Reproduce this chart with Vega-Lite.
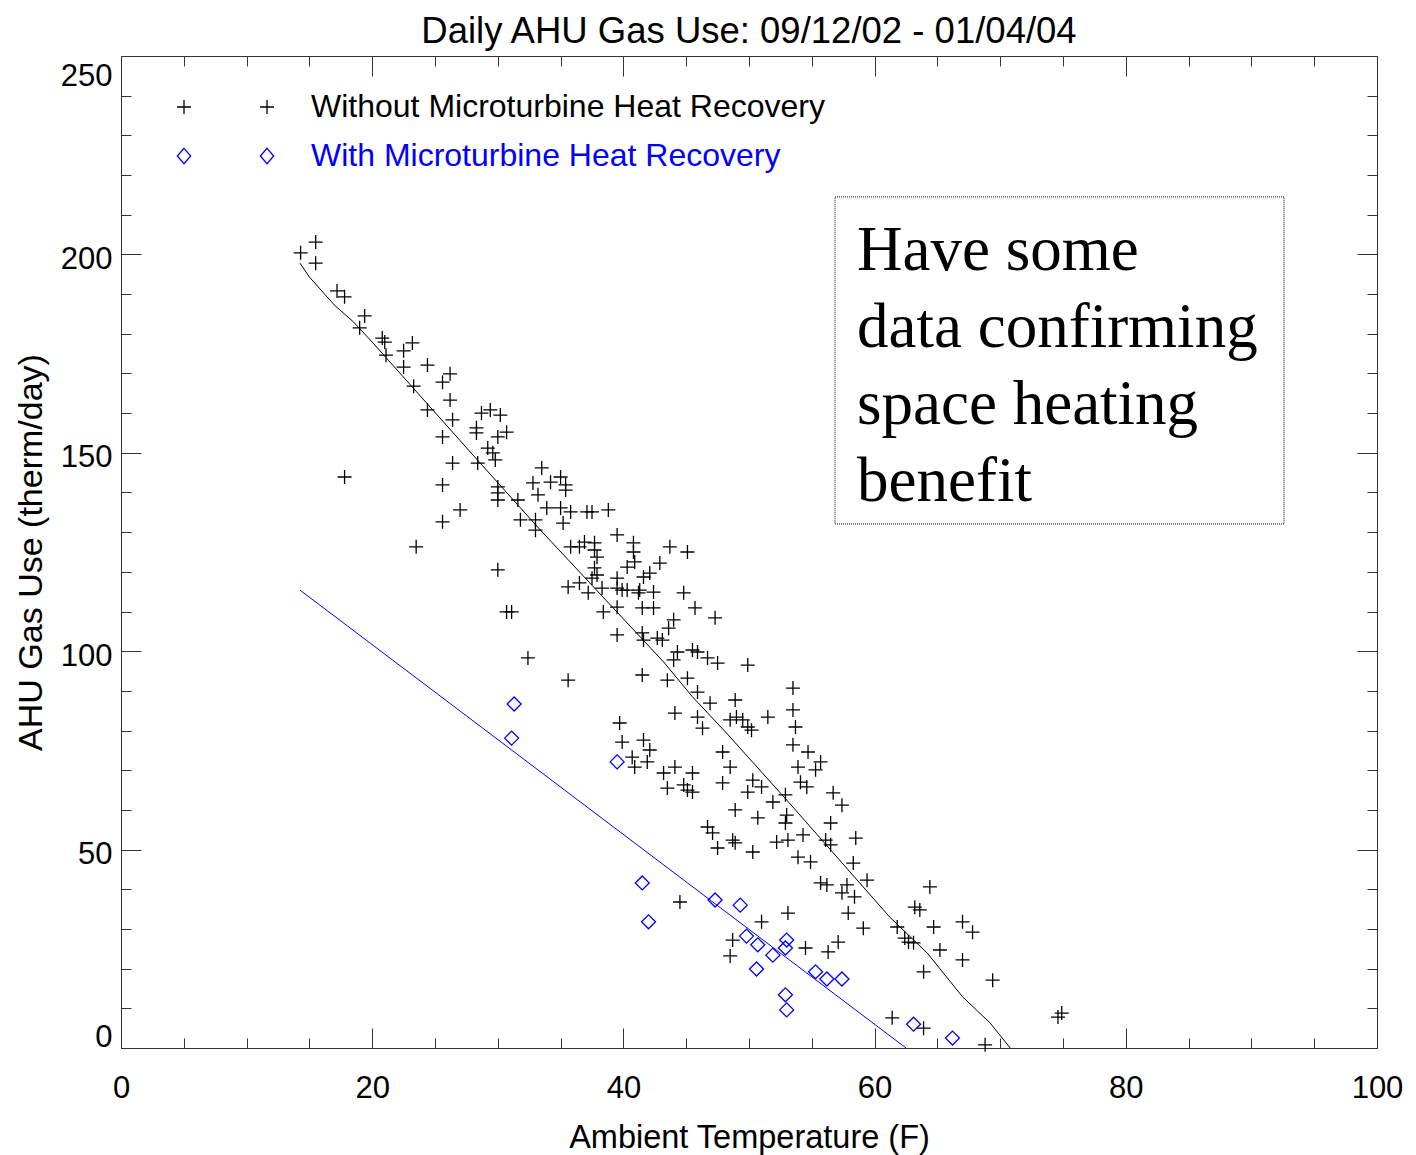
{
  "$schema": "https://vega.github.io/schema/vega-lite/v6.json",
  "width": 1256,
  "height": 992,
  "autosize": {"type": "none"},
  "padding": {"left": 121, "top": 56, "right": 39, "bottom": 107},
  "background": "white",
  "title": {"text": "Daily AHU Gas Use: 09/12/02 - 01/04/04", "font": "Liberation Sans", "fontSize": 36.5, "fontWeight": "normal", "anchor": "middle", "frame": "group", "offset": -24, "baseline": "alphabetic", "color": "black"},
  "config": {
    "view": {"stroke": null},
    "axis": {"domainColor": "#333333", "tickColor": "#333333", "tickWidth": 1, "domainWidth": 1, "labelFont": "Liberation Sans", "titleFont": "Liberation Sans", "labelColor": "black", "titleColor": "black", "grid": false, "titleFontWeight": "normal"}
  },
  "datasets": {
    "obs": [
      {"t":15.5,"g":203.1,"s":"Without Microturbine Heat Recovery"},
      {"t":14.3,"g":200.4,"s":"Without Microturbine Heat Recovery"},
      {"t":15.5,"g":197.8,"s":"Without Microturbine Heat Recovery"},
      {"t":17.2,"g":190.8,"s":"Without Microturbine Heat Recovery"},
      {"t":17.8,"g":189.3,"s":"Without Microturbine Heat Recovery"},
      {"t":19.4,"g":184.5,"s":"Without Microturbine Heat Recovery"},
      {"t":19.0,"g":181.5,"s":"Without Microturbine Heat Recovery"},
      {"t":20.8,"g":178.9,"s":"Without Microturbine Heat Recovery"},
      {"t":21.0,"g":177.9,"s":"Without Microturbine Heat Recovery"},
      {"t":23.2,"g":177.7,"s":"Without Microturbine Heat Recovery"},
      {"t":22.5,"g":175.7,"s":"Without Microturbine Heat Recovery"},
      {"t":21.1,"g":174.6,"s":"Without Microturbine Heat Recovery"},
      {"t":22.5,"g":171.6,"s":"Without Microturbine Heat Recovery"},
      {"t":24.4,"g":172.1,"s":"Without Microturbine Heat Recovery"},
      {"t":23.3,"g":166.8,"s":"Without Microturbine Heat Recovery"},
      {"t":25.6,"g":167.8,"s":"Without Microturbine Heat Recovery"},
      {"t":26.2,"g":169.9,"s":"Without Microturbine Heat Recovery"},
      {"t":26.2,"g":163.3,"s":"Without Microturbine Heat Recovery"},
      {"t":24.4,"g":160.8,"s":"Without Microturbine Heat Recovery"},
      {"t":26.4,"g":158.3,"s":"Without Microturbine Heat Recovery"},
      {"t":25.6,"g":154.0,"s":"Without Microturbine Heat Recovery"},
      {"t":26.4,"g":147.4,"s":"Without Microturbine Heat Recovery"},
      {"t":28.4,"g":147.4,"s":"Without Microturbine Heat Recovery"},
      {"t":28.7,"g":160.0,"s":"Without Microturbine Heat Recovery"},
      {"t":29.4,"g":160.8,"s":"Without Microturbine Heat Recovery"},
      {"t":30.2,"g":159.5,"s":"Without Microturbine Heat Recovery"},
      {"t":28.3,"g":156.3,"s":"Without Microturbine Heat Recovery"},
      {"t":28.3,"g":155.0,"s":"Without Microturbine Heat Recovery"},
      {"t":30.7,"g":155.2,"s":"Without Microturbine Heat Recovery"},
      {"t":30.0,"g":154.0,"s":"Without Microturbine Heat Recovery"},
      {"t":29.2,"g":151.2,"s":"Without Microturbine Heat Recovery"},
      {"t":29.6,"g":150.0,"s":"Without Microturbine Heat Recovery"},
      {"t":29.8,"g":148.2,"s":"Without Microturbine Heat Recovery"},
      {"t":17.8,"g":143.9,"s":"Without Microturbine Heat Recovery"},
      {"t":25.6,"g":141.9,"s":"Without Microturbine Heat Recovery"},
      {"t":30.0,"g":141.4,"s":"Without Microturbine Heat Recovery"},
      {"t":30.0,"g":139.9,"s":"Without Microturbine Heat Recovery"},
      {"t":30.0,"g":138.1,"s":"Without Microturbine Heat Recovery"},
      {"t":31.6,"g":138.1,"s":"Without Microturbine Heat Recovery"},
      {"t":27.0,"g":135.6,"s":"Without Microturbine Heat Recovery"},
      {"t":25.6,"g":132.6,"s":"Without Microturbine Heat Recovery"},
      {"t":31.8,"g":133.1,"s":"Without Microturbine Heat Recovery"},
      {"t":33.0,"g":133.1,"s":"Without Microturbine Heat Recovery"},
      {"t":33.0,"g":130.5,"s":"Without Microturbine Heat Recovery"},
      {"t":32.8,"g":142.4,"s":"Without Microturbine Heat Recovery"},
      {"t":23.5,"g":126.3,"s":"Without Microturbine Heat Recovery"},
      {"t":33.5,"g":146.2,"s":"Without Microturbine Heat Recovery"},
      {"t":34.2,"g":142.6,"s":"Without Microturbine Heat Recovery"},
      {"t":35.0,"g":143.9,"s":"Without Microturbine Heat Recovery"},
      {"t":35.4,"g":141.9,"s":"Without Microturbine Heat Recovery"},
      {"t":35.4,"g":140.6,"s":"Without Microturbine Heat Recovery"},
      {"t":33.2,"g":139.4,"s":"Without Microturbine Heat Recovery"},
      {"t":33.9,"g":136.1,"s":"Without Microturbine Heat Recovery"},
      {"t":35.0,"g":136.1,"s":"Without Microturbine Heat Recovery"},
      {"t":35.8,"g":135.1,"s":"Without Microturbine Heat Recovery"},
      {"t":37.1,"g":135.1,"s":"Without Microturbine Heat Recovery"},
      {"t":37.5,"g":135.1,"s":"Without Microturbine Heat Recovery"},
      {"t":38.8,"g":135.6,"s":"Without Microturbine Heat Recovery"},
      {"t":35.2,"g":132.3,"s":"Without Microturbine Heat Recovery"},
      {"t":39.5,"g":129.3,"s":"Without Microturbine Heat Recovery"},
      {"t":40.8,"g":127.3,"s":"Without Microturbine Heat Recovery"},
      {"t":40.8,"g":125.0,"s":"Without Microturbine Heat Recovery"},
      {"t":43.7,"g":126.3,"s":"Without Microturbine Heat Recovery"},
      {"t":45.1,"g":125.0,"s":"Without Microturbine Heat Recovery"},
      {"t":35.8,"g":126.3,"s":"Without Microturbine Heat Recovery"},
      {"t":36.5,"g":126.3,"s":"Without Microturbine Heat Recovery"},
      {"t":36.9,"g":127.5,"s":"Without Microturbine Heat Recovery"},
      {"t":37.7,"g":127.3,"s":"Without Microturbine Heat Recovery"},
      {"t":37.7,"g":125.5,"s":"Without Microturbine Heat Recovery"},
      {"t":37.9,"g":123.7,"s":"Without Microturbine Heat Recovery"},
      {"t":40.3,"g":121.2,"s":"Without Microturbine Heat Recovery"},
      {"t":40.9,"g":122.5,"s":"Without Microturbine Heat Recovery"},
      {"t":42.9,"g":122.2,"s":"Without Microturbine Heat Recovery"},
      {"t":30.0,"g":120.5,"s":"Without Microturbine Heat Recovery"},
      {"t":37.7,"g":121.0,"s":"Without Microturbine Heat Recovery"},
      {"t":37.9,"g":119.2,"s":"Without Microturbine Heat Recovery"},
      {"t":37.5,"g":118.4,"s":"Without Microturbine Heat Recovery"},
      {"t":39.5,"g":118.4,"s":"Without Microturbine Heat Recovery"},
      {"t":41.6,"g":118.7,"s":"Without Microturbine Heat Recovery"},
      {"t":42.1,"g":119.7,"s":"Without Microturbine Heat Recovery"},
      {"t":35.6,"g":116.2,"s":"Without Microturbine Heat Recovery"},
      {"t":36.5,"g":117.2,"s":"Without Microturbine Heat Recovery"},
      {"t":37.2,"g":114.7,"s":"Without Microturbine Heat Recovery"},
      {"t":38.3,"g":115.9,"s":"Without Microturbine Heat Recovery"},
      {"t":39.5,"g":115.9,"s":"Without Microturbine Heat Recovery"},
      {"t":39.9,"g":115.4,"s":"Without Microturbine Heat Recovery"},
      {"t":40.3,"g":115.4,"s":"Without Microturbine Heat Recovery"},
      {"t":41.3,"g":115.4,"s":"Without Microturbine Heat Recovery"},
      {"t":42.4,"g":114.9,"s":"Without Microturbine Heat Recovery"},
      {"t":41.2,"g":114.7,"s":"Without Microturbine Heat Recovery"},
      {"t":44.8,"g":114.7,"s":"Without Microturbine Heat Recovery"},
      {"t":39.5,"g":111.1,"s":"Without Microturbine Heat Recovery"},
      {"t":38.4,"g":109.9,"s":"Without Microturbine Heat Recovery"},
      {"t":41.5,"g":110.9,"s":"Without Microturbine Heat Recovery"},
      {"t":42.4,"g":110.9,"s":"Without Microturbine Heat Recovery"},
      {"t":45.7,"g":110.9,"s":"Without Microturbine Heat Recovery"},
      {"t":47.3,"g":108.4,"s":"Without Microturbine Heat Recovery"},
      {"t":30.7,"g":109.9,"s":"Without Microturbine Heat Recovery"},
      {"t":31.1,"g":109.9,"s":"Without Microturbine Heat Recovery"},
      {"t":44.0,"g":107.9,"s":"Without Microturbine Heat Recovery"},
      {"t":43.6,"g":105.8,"s":"Without Microturbine Heat Recovery"},
      {"t":39.5,"g":104.1,"s":"Without Microturbine Heat Recovery"},
      {"t":41.5,"g":104.6,"s":"Without Microturbine Heat Recovery"},
      {"t":41.6,"g":102.8,"s":"Without Microturbine Heat Recovery"},
      {"t":42.7,"g":103.3,"s":"Without Microturbine Heat Recovery"},
      {"t":43.1,"g":102.8,"s":"Without Microturbine Heat Recovery"},
      {"t":44.3,"g":99.8,"s":"Without Microturbine Heat Recovery"},
      {"t":44.0,"g":97.8,"s":"Without Microturbine Heat Recovery"},
      {"t":45.5,"g":100.3,"s":"Without Microturbine Heat Recovery"},
      {"t":45.9,"g":99.8,"s":"Without Microturbine Heat Recovery"},
      {"t":46.7,"g":98.3,"s":"Without Microturbine Heat Recovery"},
      {"t":47.5,"g":97.0,"s":"Without Microturbine Heat Recovery"},
      {"t":32.4,"g":98.3,"s":"Without Microturbine Heat Recovery"},
      {"t":35.6,"g":92.7,"s":"Without Microturbine Heat Recovery"},
      {"t":41.5,"g":94.0,"s":"Without Microturbine Heat Recovery"},
      {"t":43.5,"g":92.7,"s":"Without Microturbine Heat Recovery"},
      {"t":45.1,"g":93.2,"s":"Without Microturbine Heat Recovery"},
      {"t":45.9,"g":89.7,"s":"Without Microturbine Heat Recovery"},
      {"t":49.9,"g":96.5,"s":"Without Microturbine Heat Recovery"},
      {"t":46.9,"g":86.9,"s":"Without Microturbine Heat Recovery"},
      {"t":48.9,"g":87.7,"s":"Without Microturbine Heat Recovery"},
      {"t":53.5,"g":90.7,"s":"Without Microturbine Heat Recovery"},
      {"t":53.5,"g":85.2,"s":"Without Microturbine Heat Recovery"},
      {"t":53.7,"g":80.9,"s":"Without Microturbine Heat Recovery"},
      {"t":44.1,"g":84.4,"s":"Without Microturbine Heat Recovery"},
      {"t":45.9,"g":83.4,"s":"Without Microturbine Heat Recovery"},
      {"t":46.3,"g":80.6,"s":"Without Microturbine Heat Recovery"},
      {"t":48.5,"g":82.7,"s":"Without Microturbine Heat Recovery"},
      {"t":49.0,"g":83.4,"s":"Without Microturbine Heat Recovery"},
      {"t":49.5,"g":82.7,"s":"Without Microturbine Heat Recovery"},
      {"t":49.9,"g":80.9,"s":"Without Microturbine Heat Recovery"},
      {"t":50.2,"g":80.1,"s":"Without Microturbine Heat Recovery"},
      {"t":51.5,"g":83.4,"s":"Without Microturbine Heat Recovery"},
      {"t":39.7,"g":81.9,"s":"Without Microturbine Heat Recovery"},
      {"t":39.9,"g":77.1,"s":"Without Microturbine Heat Recovery"},
      {"t":41.6,"g":77.6,"s":"Without Microturbine Heat Recovery"},
      {"t":42.1,"g":75.1,"s":"Without Microturbine Heat Recovery"},
      {"t":40.7,"g":73.3,"s":"Without Microturbine Heat Recovery"},
      {"t":41.9,"g":72.1,"s":"Without Microturbine Heat Recovery"},
      {"t":40.9,"g":70.8,"s":"Without Microturbine Heat Recovery"},
      {"t":53.5,"g":76.4,"s":"Without Microturbine Heat Recovery"},
      {"t":54.7,"g":74.6,"s":"Without Microturbine Heat Recovery"},
      {"t":55.7,"g":72.1,"s":"Without Microturbine Heat Recovery"},
      {"t":55.3,"g":70.1,"s":"Without Microturbine Heat Recovery"},
      {"t":53.9,"g":70.8,"s":"Without Microturbine Heat Recovery"},
      {"t":47.9,"g":74.6,"s":"Without Microturbine Heat Recovery"},
      {"t":48.5,"g":70.8,"s":"Without Microturbine Heat Recovery"},
      {"t":43.2,"g":69.3,"s":"Without Microturbine Heat Recovery"},
      {"t":44.1,"g":70.8,"s":"Without Microturbine Heat Recovery"},
      {"t":45.5,"g":69.3,"s":"Without Microturbine Heat Recovery"},
      {"t":43.5,"g":65.5,"s":"Without Microturbine Heat Recovery"},
      {"t":44.8,"g":66.3,"s":"Without Microturbine Heat Recovery"},
      {"t":45.1,"g":65.0,"s":"Without Microturbine Heat Recovery"},
      {"t":45.5,"g":64.5,"s":"Without Microturbine Heat Recovery"},
      {"t":47.9,"g":66.8,"s":"Without Microturbine Heat Recovery"},
      {"t":50.3,"g":67.5,"s":"Without Microturbine Heat Recovery"},
      {"t":51.0,"g":65.8,"s":"Without Microturbine Heat Recovery"},
      {"t":49.9,"g":64.5,"s":"Without Microturbine Heat Recovery"},
      {"t":54.1,"g":67.0,"s":"Without Microturbine Heat Recovery"},
      {"t":54.6,"g":65.8,"s":"Without Microturbine Heat Recovery"},
      {"t":52.9,"g":63.8,"s":"Without Microturbine Heat Recovery"},
      {"t":51.9,"g":62.0,"s":"Without Microturbine Heat Recovery"},
      {"t":56.7,"g":64.3,"s":"Without Microturbine Heat Recovery"},
      {"t":48.9,"g":60.0,"s":"Without Microturbine Heat Recovery"},
      {"t":50.7,"g":58.0,"s":"Without Microturbine Heat Recovery"},
      {"t":53.0,"g":58.7,"s":"Without Microturbine Heat Recovery"},
      {"t":52.9,"g":56.7,"s":"Without Microturbine Heat Recovery"},
      {"t":56.5,"g":56.7,"s":"Without Microturbine Heat Recovery"},
      {"t":46.7,"g":55.7,"s":"Without Microturbine Heat Recovery"},
      {"t":47.1,"g":54.2,"s":"Without Microturbine Heat Recovery"},
      {"t":48.7,"g":52.4,"s":"Without Microturbine Heat Recovery"},
      {"t":48.9,"g":51.7,"s":"Without Microturbine Heat Recovery"},
      {"t":52.2,"g":51.9,"s":"Without Microturbine Heat Recovery"},
      {"t":53.1,"g":52.4,"s":"Without Microturbine Heat Recovery"},
      {"t":54.3,"g":53.7,"s":"Without Microturbine Heat Recovery"},
      {"t":56.1,"g":52.4,"s":"Without Microturbine Heat Recovery"},
      {"t":47.5,"g":50.4,"s":"Without Microturbine Heat Recovery"},
      {"t":50.3,"g":49.4,"s":"Without Microturbine Heat Recovery"},
      {"t":53.9,"g":48.1,"s":"Without Microturbine Heat Recovery"},
      {"t":54.9,"g":46.9,"s":"Without Microturbine Heat Recovery"},
      {"t":55.7,"g":41.6,"s":"Without Microturbine Heat Recovery"},
      {"t":56.2,"g":41.1,"s":"Without Microturbine Heat Recovery"},
      {"t":44.5,"g":36.8,"s":"Without Microturbine Heat Recovery"},
      {"t":53.1,"g":34.0,"s":"Without Microturbine Heat Recovery"},
      {"t":57.4,"g":61.2,"s":"Without Microturbine Heat Recovery"},
      {"t":56.5,"g":51.2,"s":"Without Microturbine Heat Recovery"},
      {"t":58.5,"g":52.9,"s":"Without Microturbine Heat Recovery"},
      {"t":58.3,"g":46.6,"s":"Without Microturbine Heat Recovery"},
      {"t":59.4,"g":42.3,"s":"Without Microturbine Heat Recovery"},
      {"t":57.8,"g":41.1,"s":"Without Microturbine Heat Recovery"},
      {"t":57.4,"g":39.1,"s":"Without Microturbine Heat Recovery"},
      {"t":58.4,"g":38.1,"s":"Without Microturbine Heat Recovery"},
      {"t":64.4,"g":40.6,"s":"Without Microturbine Heat Recovery"},
      {"t":63.2,"g":35.5,"s":"Without Microturbine Heat Recovery"},
      {"t":63.6,"g":34.8,"s":"Without Microturbine Heat Recovery"},
      {"t":57.9,"g":34.0,"s":"Without Microturbine Heat Recovery"},
      {"t":59.1,"g":30.2,"s":"Without Microturbine Heat Recovery"},
      {"t":61.8,"g":30.5,"s":"Without Microturbine Heat Recovery"},
      {"t":64.7,"g":30.5,"s":"Without Microturbine Heat Recovery"},
      {"t":67.0,"g":31.8,"s":"Without Microturbine Heat Recovery"},
      {"t":67.8,"g":29.2,"s":"Without Microturbine Heat Recovery"},
      {"t":62.4,"g":27.7,"s":"Without Microturbine Heat Recovery"},
      {"t":62.7,"g":26.7,"s":"Without Microturbine Heat Recovery"},
      {"t":63.1,"g":26.5,"s":"Without Microturbine Heat Recovery"},
      {"t":57.1,"g":26.7,"s":"Without Microturbine Heat Recovery"},
      {"t":54.5,"g":25.2,"s":"Without Microturbine Heat Recovery"},
      {"t":56.3,"g":24.2,"s":"Without Microturbine Heat Recovery"},
      {"t":65.2,"g":24.7,"s":"Without Microturbine Heat Recovery"},
      {"t":67.0,"g":22.2,"s":"Without Microturbine Heat Recovery"},
      {"t":63.9,"g":19.2,"s":"Without Microturbine Heat Recovery"},
      {"t":69.4,"g":17.1,"s":"Without Microturbine Heat Recovery"},
      {"t":61.4,"g":7.6,"s":"Without Microturbine Heat Recovery"},
      {"t":63.9,"g":5.0,"s":"Without Microturbine Heat Recovery"},
      {"t":68.8,"g":0.8,"s":"Without Microturbine Heat Recovery"},
      {"t":74.6,"g":7.8,"s":"Without Microturbine Heat Recovery"},
      {"t":74.9,"g":8.8,"s":"Without Microturbine Heat Recovery"},
      {"t":48.7,"g":27.2,"s":"Without Microturbine Heat Recovery"},
      {"t":48.5,"g":23.2,"s":"Without Microturbine Heat Recovery"},
      {"t":51.0,"g":31.8,"s":"Without Microturbine Heat Recovery"},
      {"t":31.3,"g":86.7,"s":"With Microturbine Heat Recovery"},
      {"t":31.1,"g":78.1,"s":"With Microturbine Heat Recovery"},
      {"t":39.5,"g":72.1,"s":"With Microturbine Heat Recovery"},
      {"t":41.5,"g":41.6,"s":"With Microturbine Heat Recovery"},
      {"t":42.0,"g":31.8,"s":"With Microturbine Heat Recovery"},
      {"t":47.3,"g":37.3,"s":"With Microturbine Heat Recovery"},
      {"t":49.3,"g":36.0,"s":"With Microturbine Heat Recovery"},
      {"t":49.8,"g":28.2,"s":"With Microturbine Heat Recovery"},
      {"t":50.7,"g":26.0,"s":"With Microturbine Heat Recovery"},
      {"t":50.6,"g":19.9,"s":"With Microturbine Heat Recovery"},
      {"t":51.9,"g":23.4,"s":"With Microturbine Heat Recovery"},
      {"t":53.0,"g":27.2,"s":"With Microturbine Heat Recovery"},
      {"t":52.9,"g":25.2,"s":"With Microturbine Heat Recovery"},
      {"t":55.3,"g":19.2,"s":"With Microturbine Heat Recovery"},
      {"t":56.2,"g":17.4,"s":"With Microturbine Heat Recovery"},
      {"t":57.4,"g":17.4,"s":"With Microturbine Heat Recovery"},
      {"t":52.9,"g":13.4,"s":"With Microturbine Heat Recovery"},
      {"t":53.0,"g":9.6,"s":"With Microturbine Heat Recovery"},
      {"t":63.1,"g":6.0,"s":"With Microturbine Heat Recovery"},
      {"t":66.2,"g":2.5,"s":"With Microturbine Heat Recovery"}
    ],
    "fit": [
      {"t":14.25,"g":197.8,"s":"Without Microturbine Heat Recovery"},
      {"t":15.0,"g":194.3,"s":"Without Microturbine Heat Recovery"},
      {"t":17.0,"g":187.2,"s":"Without Microturbine Heat Recovery"},
      {"t":18.5,"g":183.0,"s":"Without Microturbine Heat Recovery"},
      {"t":20.0,"g":177.9,"s":"Without Microturbine Heat Recovery"},
      {"t":28.6,"g":147.4,"s":"Without Microturbine Heat Recovery"},
      {"t":33.4,"g":130.5,"s":"Without Microturbine Heat Recovery"},
      {"t":43.2,"g":97.3,"s":"Without Microturbine Heat Recovery"},
      {"t":45.5,"g":88.5,"s":"Without Microturbine Heat Recovery"},
      {"t":48.2,"g":79.4,"s":"Without Microturbine Heat Recovery"},
      {"t":53.0,"g":62.5,"s":"Without Microturbine Heat Recovery"},
      {"t":57.2,"g":47.4,"s":"Without Microturbine Heat Recovery"},
      {"t":61.2,"g":33.0,"s":"Without Microturbine Heat Recovery"},
      {"t":64.2,"g":23.9,"s":"Without Microturbine Heat Recovery"},
      {"t":67.0,"g":12.9,"s":"Without Microturbine Heat Recovery"},
      {"t":69.2,"g":6.3,"s":"Without Microturbine Heat Recovery"},
      {"t":70.8,"g":0.0,"s":"Without Microturbine Heat Recovery"},
      {"t":14.25,"g":115.4,"s":"With Microturbine Heat Recovery"},
      {"t":62.5,"g":0.0,"s":"With Microturbine Heat Recovery"}
    ]
  },
  "resolve": {"axis": {"x": "independent", "y": "independent"}},
  "layer": [
    {
      "data": {"name": "obs"},
      "mark": {"type": "point", "filled": false, "size": 196, "strokeWidth": 1.3, "opacity": 1},
      "encoding": {
        "x": {"field": "t", "type": "quantitative", "scale": {"domain": [0, 100], "nice": false, "zero": false},
          "axis": {"orient": "bottom", "values": [0,5,10,15,20,25,30,35,40,45,50,55,60,65,70,75,80,85,90,95,100],
            "labelExpr": "datum.value % 20 === 0 ? datum.label : ''", "labelFontSize": 31, "labelPadding": 45,
            "labelFlush": false, "labelOverlap": false, "labelBound": false,
            "tickSize": {"condition": {"test": "datum.value % 20 === 0", "value": -20}, "value": -10},
            "title": "Ambient Temperature (F)", "titleFontSize": 32.5, "titlePadding": 8}},
        "y": {"field": "g", "type": "quantitative", "scale": {"domain": [0, 250], "nice": false, "zero": false},
          "axis": {"orient": "left", "values": [0,10,20,30,40,50,60,70,80,90,100,110,120,130,140,150,160,170,180,190,200,210,220,230,240,250],
            "labelExpr": "datum.value % 50 === 0 ? datum.label : ''", "labelFontSize": 31, "labelPadding": 29, "labelOffset": 5,
            "labelFlush": true, "labelOverlap": false, "labelBound": false,
            "tickSize": {"condition": {"test": "datum.value % 50 === 0", "value": -20}, "value": -10},
            "title": "AHU Gas Use (therm/day)", "titleFontSize": 34, "titlePadding": 12}},
        "shape": {"field": "s", "type": "nominal",
          "scale": {"domain": ["Without Microturbine Heat Recovery", "With Microturbine Heat Recovery"], "range": ["M-1,0H1M0,-1V1", "diamond"]},
          "legend": null},
        "stroke": {"field": "s", "type": "nominal", "sort": "descending",
          "scale": {"range": ["#000000", "#0000ff"]},
          "legend": {"orient": "none", "legendX": 47, "legendY": 35, "title": null, "padding": 0,
            "symbolSize": 196, "symbolStrokeWidth": 1.3, "symbolFillColor": "transparent",
            "symbolType": {"expr": "datum.value === 'With Microturbine Heat Recovery' ? 'M0,-1.1L0.95,0L0,1.1L-0.95,0ZM11.86,-1.1L12.81,0L11.86,1.1L10.91,0Z' : 'M-1,0H1M0,-1V1M10.86,0H12.86M11.86,-1V1'"},
            "labelColor": {"expr": "datum.value === 'With Microturbine Heat Recovery' ? '#0000ff' : '#000000'"},
            "labelFont": "Liberation Sans", "labelFontSize": 32,
            "labelOffset": 111, "rowPadding": 17, "labelLimit": 1000}}
      }
    },
    {
      "data": {"name": "fit"},
      "mark": {"type": "line", "strokeWidth": 1},
      "encoding": {
        "x": {"field": "t", "type": "quantitative",
          "axis": {"orient": "top", "values": [0,5,10,15,20,25,30,35,40,45,50,55,60,65,70,75,80,85,90,95,100],
            "labels": false, "title": null,
            "tickSize": {"condition": {"test": "datum.value % 20 === 0", "value": -20}, "value": -10}}},
        "y": {"field": "g", "type": "quantitative",
          "axis": {"orient": "right", "values": [0,10,20,30,40,50,60,70,80,90,100,110,120,130,140,150,160,170,180,190,200,210,220,230,240,250],
            "labels": false, "title": null,
            "tickSize": {"condition": {"test": "datum.value % 50 === 0", "value": -20}, "value": -10}}},
        "stroke": {"field": "s", "type": "nominal", "sort": "descending",
          "legend": {"orient": "none", "legendX": 47, "legendY": 35, "title": null, "padding": 0,
            "symbolSize": 196, "symbolStrokeWidth": 1.3, "symbolFillColor": "transparent",
            "symbolType": {"expr": "datum.value === 'With Microturbine Heat Recovery' ? 'M0,-1.1L0.95,0L0,1.1L-0.95,0ZM11.86,-1.1L12.81,0L11.86,1.1L10.91,0Z' : 'M-1,0H1M0,-1V1M10.86,0H12.86M11.86,-1V1'"},
            "labelColor": {"expr": "datum.value === 'With Microturbine Heat Recovery' ? '#0000ff' : '#000000'"},
            "labelFont": "Liberation Sans", "labelFontSize": 32,
            "labelOffset": 111, "rowPadding": 17, "labelLimit": 1000}}
      }
    },
    {
      "data": {"values": [{}]},
      "mark": {"type": "rect", "fill": "transparent", "stroke": "#333333", "strokeDash": [1, 1], "strokeWidth": 1.2},
      "encoding": {
        "x": {"datum": 56.85, "type": "quantitative", "axis": null},
        "x2": {"datum": 92.6},
        "y": {"datum": 214.5, "type": "quantitative", "axis": null},
        "y2": {"datum": 132.1}
      }
    },
    {
      "data": {"values": [{}]},
      "mark": {"type": "text", "text": ["Have some", "data confirming", "space heating", "benefit"], "font": "Liberation Serif", "fontSize": 63, "lineHeight": 77, "align": "left", "baseline": "alphabetic", "color": "black"},
      "encoding": {
        "x": {"datum": 58.6, "type": "quantitative", "axis": null},
        "y": {"datum": 196.1, "type": "quantitative", "axis": null}
      }
    }
  ]
}
